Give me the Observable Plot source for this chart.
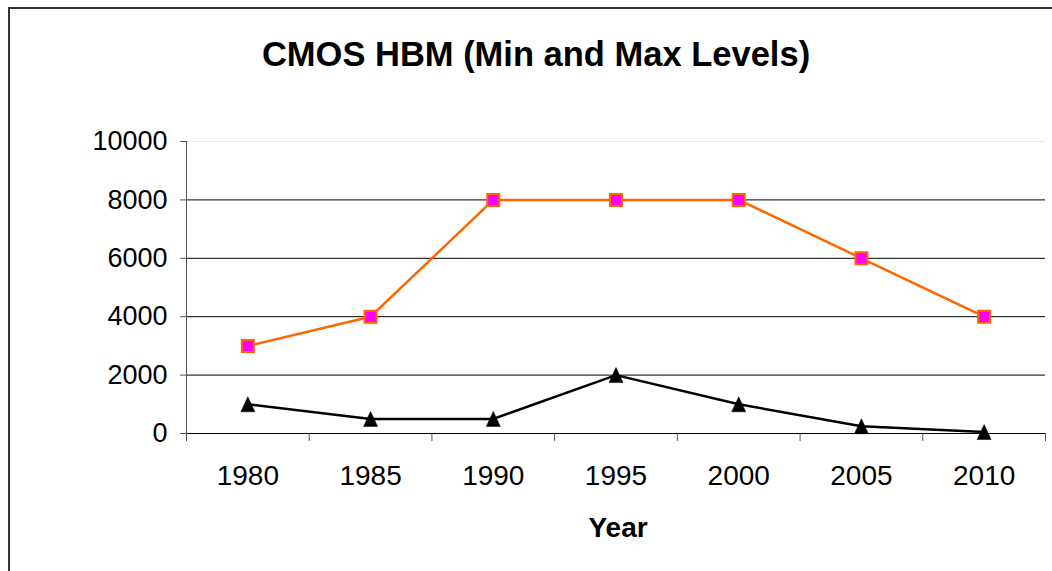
<!DOCTYPE html>
<html>
<head>
<meta charset="utf-8">
<script src="https://cdn.jsdelivr.net/npm/d3@7"></script>
<script src="https://cdn.jsdelivr.net/npm/@observablehq/plot@0.6"></script>
<style>
  html, body { margin: 0; padding: 0; background: #fff; }
  #wrap { position: relative; width: 1052px; height: 571px; overflow: hidden; }
  #frame { position: absolute; left: 8px; top: 7px; width: 1100px; height: 600px; border-left: 2px solid #333; border-top: 2px solid #333; pointer-events: none; }
  #chart { position: absolute; left: 0; top: 0; }
</style>
</head>
<body>
<div id="wrap"><div id="chart"></div><div id="frame"></div></div>
<script>
const title = "CMOS HBM (Min and Max Levels)";
const xLabel = "Year";
const years = [1980, 1985, 1990, 1995, 2000, 2005, 2010];
const maxLevels = [3000, 4000, 8000, 8000, 8000, 6000, 4000];
const minLevels = [1000, 500, 500, 2000, 1000, 250, 50];
const yTicks = [0, 2000, 4000, 6000, 8000, 10000];

const maxData = years.map((y, i) => ({year: y, value: maxLevels[i]}));
const minData = years.map((y, i) => ({year: y, value: minLevels[i]}));
const boundaries = [...years.map(y => y - 2.5), years[years.length - 1] + 2.5];

const tri = {
  draw(ctx, size) {
    const w = 7, h = 7.5;
    ctx.moveTo(0, -h);
    ctx.lineTo(w, h);
    ctx.lineTo(-w, h);
    ctx.closePath();
  }
};
const sq = {
  draw(ctx, size) {
    const s = 6;
    ctx.moveTo(-s, -s);
    ctx.lineTo(s, -s);
    ctx.lineTo(s, s);
    ctx.lineTo(-s, s);
    ctx.closePath();
  }
};

const chart = Plot.plot({
  width: 1052,
  height: 571,
  marginLeft: 186,
  marginRight: 7,
  marginTop: 141,
  marginBottom: 138,
  style: {fontFamily: "'Liberation Sans', Arial, sans-serif", fontSize: "27px", color: "#000", background: "transparent"},
  x: {type: "linear", domain: [boundaries[0], boundaries[boundaries.length - 1]]},
  y: {domain: [0, 10000]},
  marks: [
    Plot.ruleY([10000], {stroke: "#e6e6e6", strokeWidth: 1}),
    Plot.ruleY(yTicks.filter(t => t > 0 && t < 10000), {stroke: "#000", strokeWidth: 1}),
    Plot.ruleX([boundaries[0]], {y1: 0, y2: 10000, stroke: "#555", strokeWidth: 1}),
    Plot.ruleY([0], {stroke: "#000", strokeWidth: 1}),
    Plot.axisY({ticks: yTicks, tickSize: 6, tickPadding: 13, tickFormat: d => String(d), label: null, fontSize: 27, stroke: "#555"}),
    Plot.axisX({ticks: boundaries, tickSize: 8, tickFormat: () => "", label: null, stroke: "#555"}),
    Plot.axisX({ticks: years, tickSize: 0, tickPadding: 32, tickFormat: d => String(d), label: null, fontSize: 28}),
    Plot.line(maxData, {x: "year", y: "value", stroke: "#ff6600", strokeWidth: 2.5}),
    Plot.line(minData, {x: "year", y: "value", stroke: "#000", strokeWidth: 2.5}),
    Plot.dot(maxData, {x: "year", y: "value", symbol: sq, r: 6, fill: "#ff00ff", stroke: "#ff6600", strokeWidth: 2}),
    Plot.dot(minData, {x: "year", y: "value", symbol: tri, r: 6, fill: "#000", stroke: "#000", strokeWidth: 0.5}),
    Plot.text([xLabel], {frameAnchor: "bottom", dy: 103, dx: 2, fontWeight: "bold", fontSize: 28}),
    Plot.text([title], {frameAnchor: "top", dy: -100, dx: -80, fontWeight: "bold", fontSize: 34.5})
  ]
});
document.getElementById("chart").appendChild(chart);
</script>
</body>
</html>
